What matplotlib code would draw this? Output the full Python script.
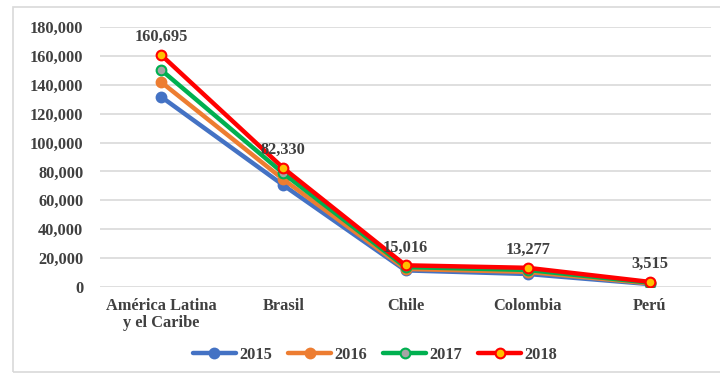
import matplotlib
matplotlib.use("Agg")
import matplotlib.pyplot as plt
from matplotlib.patches import Rectangle

categories = ["América Latina\ny el Caribe", "Brasil", "Chile", "Colombia", "Perú"]
years = ["2015", "2016", "2017", "2018"]
v2015 = [131700, 70500, 11500, 9000, 2000]
v2016 = [141900, 74500, 12500, 10500, 2500]
v2017 = [150300, 78700, 13800, 11800, 3000]
v2018 = [160695, 82330, 15016, 13277, 3515]
yticks = [0, 20000, 40000, 60000, 80000, 100000, 120000, 140000, 160000, 180000]

series = [v2015, v2016, v2017, v2018]
line_colors = ["#4472C4", "#ED7D31", "#00B050", "#FF0000"]
face_colors = ["#4472C4", "#ED7D31", "#A5A5A5", "#FFC000"]

plt.rcParams["font.family"] = ["Liberation Serif", "DejaVu Serif"]
plt.rcParams["font.weight"] = "bold"
text_color = "#404040"
fs = 11.8

fig = plt.figure(figsize=(7.2, 3.73), dpi=100)
ax = fig.add_axes([100 / 720, 1 - 287 / 373, 611 / 720, 260 / 373])

x = list(range(len(categories)))
for vals, yr, lc, fc in zip(series, years, line_colors, face_colors):
    ax.plot(x, vals, color=lc, lw=3.2, marker="o", markersize=7,
            markerfacecolor=fc, markeredgecolor=lc, markeredgewidth=1.5,
            label=yr, solid_capstyle="round", zorder=3)

for xi, v in zip(x, v2018):
    ax.annotate(f"{v:,}", (xi, v), xytext=(0, 7), textcoords="offset points",
                ha="center", va="bottom", fontsize=fs, fontweight="bold",
                color=text_color, zorder=5)

ax.set_xlim(-0.5, len(categories) - 0.5)
ax.set_ylim(0, 180000)
ax.set_yticks(yticks)
ax.set_yticklabels([f"{t:,}" for t in yticks])
ax.set_xticks(x)
ax.set_xticklabels(categories, linespacing=1.05)
ax.tick_params(axis="both", length=0, labelsize=fs, colors=text_color)
ax.tick_params(axis="y", pad=12)
ax.tick_params(axis="x", pad=8)
for lbl in ax.get_xticklabels() + ax.get_yticklabels():
    lbl.set_fontweight("bold")
ax.grid(axis="y", color="#D9D9D9", lw=1.2)
ax.set_axisbelow(True)
for s in ax.spines.values():
    s.set_visible(False)

leg = fig.legend(loc="center", bbox_to_anchor=(375 / 720, 1 - 355 / 373), ncol=4,
                 frameon=False, fontsize=fs, handlelength=2.6, columnspacing=1.0,
                 handletextpad=0.2)
for t in leg.get_texts():
    t.set_color(text_color)
    t.set_fontweight("bold")

fig.patches.append(Rectangle((13 / 720, 1 - 372 / 373), 712 / 720, 365 / 373,
                             transform=fig.transFigure, fill=False,
                             edgecolor="#D9D9D9", lw=1.2))

fig.savefig("out.png", dpi=100)
